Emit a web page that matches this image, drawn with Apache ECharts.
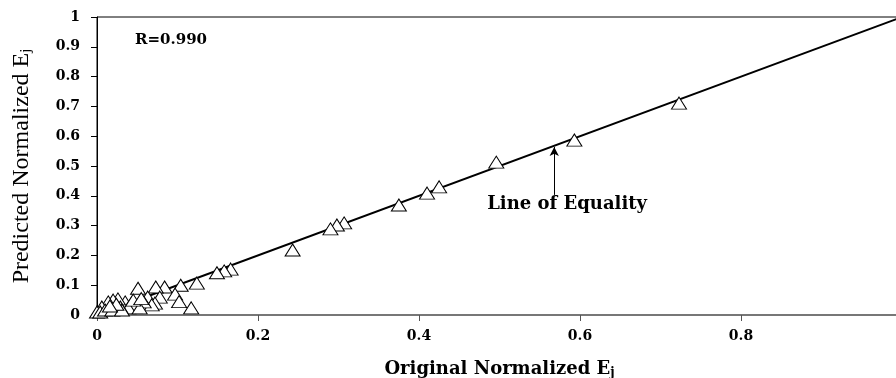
<!DOCTYPE html>
<html>
<head>
<meta charset="utf-8">
<script src="https://cdn.jsdelivr.net/npm/echarts@6/dist/echarts.min.js"></script>
<style>html,body{margin:0;padding:0;background:#fff;}#c{width:896px;height:378px;}</style>
</head>
<body>
<div id="c"></div>
<script>
// Original normalized Ej (x) and predicted normalized Ej (y)
const originalEj = [0.723,0.593,0.496,0.425,0.410,0.375,0.307,0.298,0.290,0.243,0.166,0.158,0.149,
  0.124,0.104,0.084,0.073,0.051,0.097,0.078,0.063,0.102,0.117,0.072,0.068,0.058,0.043,0.035,0.026,0.020,0.014,0.006,0.000,0.004,0.047,0.039,0.029,0.053,0.010,0.019,0.031,0.024,0.016,0.045,0.055];
const predictedEj = [0.711,0.587,0.513,0.430,0.409,0.369,0.309,0.302,0.289,0.218,0.154,0.148,0.142,
  0.107,0.100,0.094,0.094,0.090,0.070,0.060,0.060,0.045,0.024,0.040,0.034,0.044,0.040,0.044,0.054,0.050,0.044,0.027,0.010,0.010,0.027,0.024,0.027,0.024,0.017,0.017,0.017,0.036,0.030,0.050,0.055];
const equalityLine = [[0,0],[1,1]];
const xTicks = [0,0.2,0.4,0.6,0.8,1];
const yTicks = [0,0.1,0.2,0.3,0.4,0.5,0.6,0.7,0.8,0.9,1];
const arrowFrom = [0.568,0.403];
const arrowTo = [0.568,0.564];
const annotationAt = [0.584,0.370];
const annotationText = 'Line of Equality';
const rText = 'R=0.990';

const points = originalEj.map((x,i)=>[x,predictedEj[i]]);
const serif = '"Liberation Serif","Times New Roman",serif';
const wide = '"DejaVu Serif",serif';

const chart = echarts.init(document.getElementById('c'));
chart.setOption({
  animation:false,
  backgroundColor:'#fff',
  grid:{left:97,top:17,right:-6,bottom:63,show:true,borderColor:'#000',borderWidth:1,outerBoundsMode:'none',containLabel:false},
  xAxis:{
    type:'value',min:xTicks[0],max:xTicks[xTicks.length-1],interval:xTicks[1]-xTicks[0],
    axisLine:{lineStyle:{color:'#777',width:2}},
    axisTick:{show:true,inside:false,length:6,lineStyle:{color:'#555',width:1}},
    splitLine:{show:false},
    axisLabel:{fontFamily:wide,fontWeight:'bold',fontSize:14,color:'#000',margin:14},
    name:'Original Normalized E{s|j}',nameLocation:'middle',nameGap:44,
    nameTextStyle:{fontFamily:wide,fontWeight:'bold',fontSize:18,color:'#000',lineHeight:20,
      rich:{s:{fontFamily:wide,fontWeight:'bold',fontSize:12,lineHeight:12,verticalAlign:'bottom'}}}
  },
  yAxis:{
    type:'value',min:yTicks[0],max:yTicks[yTicks.length-1],interval:yTicks[1]-yTicks[0],
    axisLine:{lineStyle:{color:'#000',width:1}},
    axisTick:{show:true,inside:false,length:6,lineStyle:{color:'#000',width:1}},
    splitLine:{show:false},
    axisLabel:{fontFamily:wide,fontWeight:'bold',fontSize:14,color:'#000',margin:17},
    name:'Predicted Normalized E{s|j}',nameLocation:'middle',nameGap:63,
    nameTextStyle:{fontFamily:serif,fontSize:24,color:'#000',lineHeight:25,
      rich:{s:{fontFamily:serif,fontSize:15,lineHeight:15,verticalAlign:'bottom'}}}
  },
  graphic:[{type:'text',left:135,top:33,style:{text:rText,font:'bold 15px '+wide,fill:'#000'}}],
  series:[
    {type:'line',data:equalityLine,symbol:'none',z:2,
     lineStyle:{color:'#000',width:2},
     markLine:{silent:true,symbol:['none','arrow'],symbolSize:[7,9],
       lineStyle:{color:'#000',width:1,type:'solid'},label:{show:false},
       data:[[{coord:arrowFrom},{coord:arrowTo}]]},
     markPoint:{silent:true,symbol:'circle',symbolSize:0,
       data:[{coord:annotationAt,label:{show:true,formatter:annotationText,fontFamily:wide,fontWeight:'bold',fontSize:18,color:'#000',position:'inside'}}]}
    },
    {type:'scatter',data:points,symbol:'triangle',symbolSize:[15,12],z:5,
     itemStyle:{color:'#fff',borderColor:'#000',borderWidth:1,opacity:1}}
  ]
});
</script>
</body>
</html>
